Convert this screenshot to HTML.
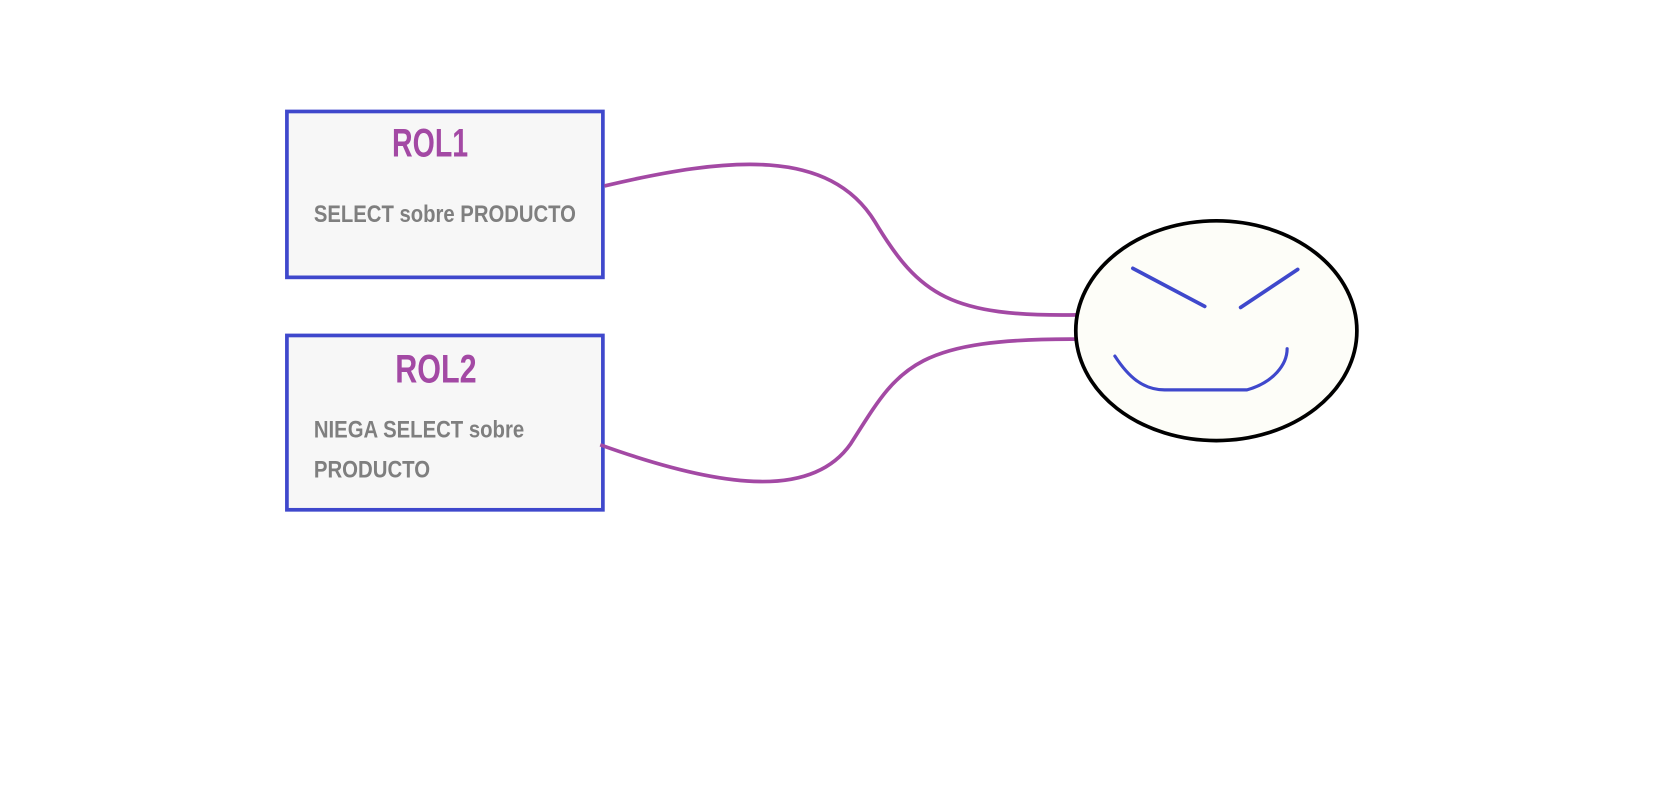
<!DOCTYPE html>
<html><head><meta charset="utf-8"><style>
html,body{margin:0;padding:0;background:#fff;width:1657px;height:803px;overflow:hidden}
svg{display:block}
text{font-family:"Liberation Sans Narrow","Liberation Sans",sans-serif;font-weight:bold}
</style></head><body>
<svg width="1657" height="803" viewBox="0 0 1568 760" preserveAspectRatio="none" xmlns="http://www.w3.org/2000/svg">
<rect x="271.5" y="105.5" width="299" height="157" fill="#f7f7f7" stroke="#3f48cc" stroke-width="3.5"/>
<rect x="271.5" y="317.5" width="299" height="165" fill="#f7f7f7" stroke="#3f48cc" stroke-width="3.5"/>
<text x="371" y="148" font-size="38" fill="#a349a4" textLength="72" lengthAdjust="spacingAndGlyphs">ROL1</text>
<text x="297" y="210" font-size="23" fill="#7f7f7f" textLength="248" lengthAdjust="spacingAndGlyphs">SELECT sobre PRODUCTO</text>
<text x="374" y="362" font-size="38" fill="#a349a4" textLength="77" lengthAdjust="spacingAndGlyphs">ROL2</text>
<text x="297" y="414" font-size="23" fill="#7f7f7f" textLength="199" lengthAdjust="spacingAndGlyphs">NIEGA SELECT sobre</text>
<text x="297" y="452" font-size="23" fill="#7f7f7f" textLength="110" lengthAdjust="spacingAndGlyphs">PRODUCTO</text>
<path d="M572 176 C690 148 785 140 828 210 C870 280 900 300 1020 298" fill="none" stroke="#a349a4" stroke-width="3.5"/>
<path d="M568 421 C690 465 770 470 805 420 C850 350 860 320 1020 321" fill="none" stroke="#a349a4" stroke-width="3.5"/>
<ellipse cx="1151" cy="313" rx="133" ry="104" fill="#fdfdf8" stroke="#000" stroke-width="3.5"/>
<line x1="1072" y1="254" x2="1140" y2="290" stroke="#3f48cc" stroke-width="3.5" stroke-linecap="round"/>
<line x1="1174" y1="291" x2="1228" y2="255" stroke="#3f48cc" stroke-width="3.5" stroke-linecap="round"/>
<path d="M1055 337 C1068 357 1082 369 1102 369 L1180 369 C1205 362 1218 345 1218 330" fill="none" stroke="#3f48cc" stroke-width="3" stroke-linecap="round"/>
</svg>
</body></html>
